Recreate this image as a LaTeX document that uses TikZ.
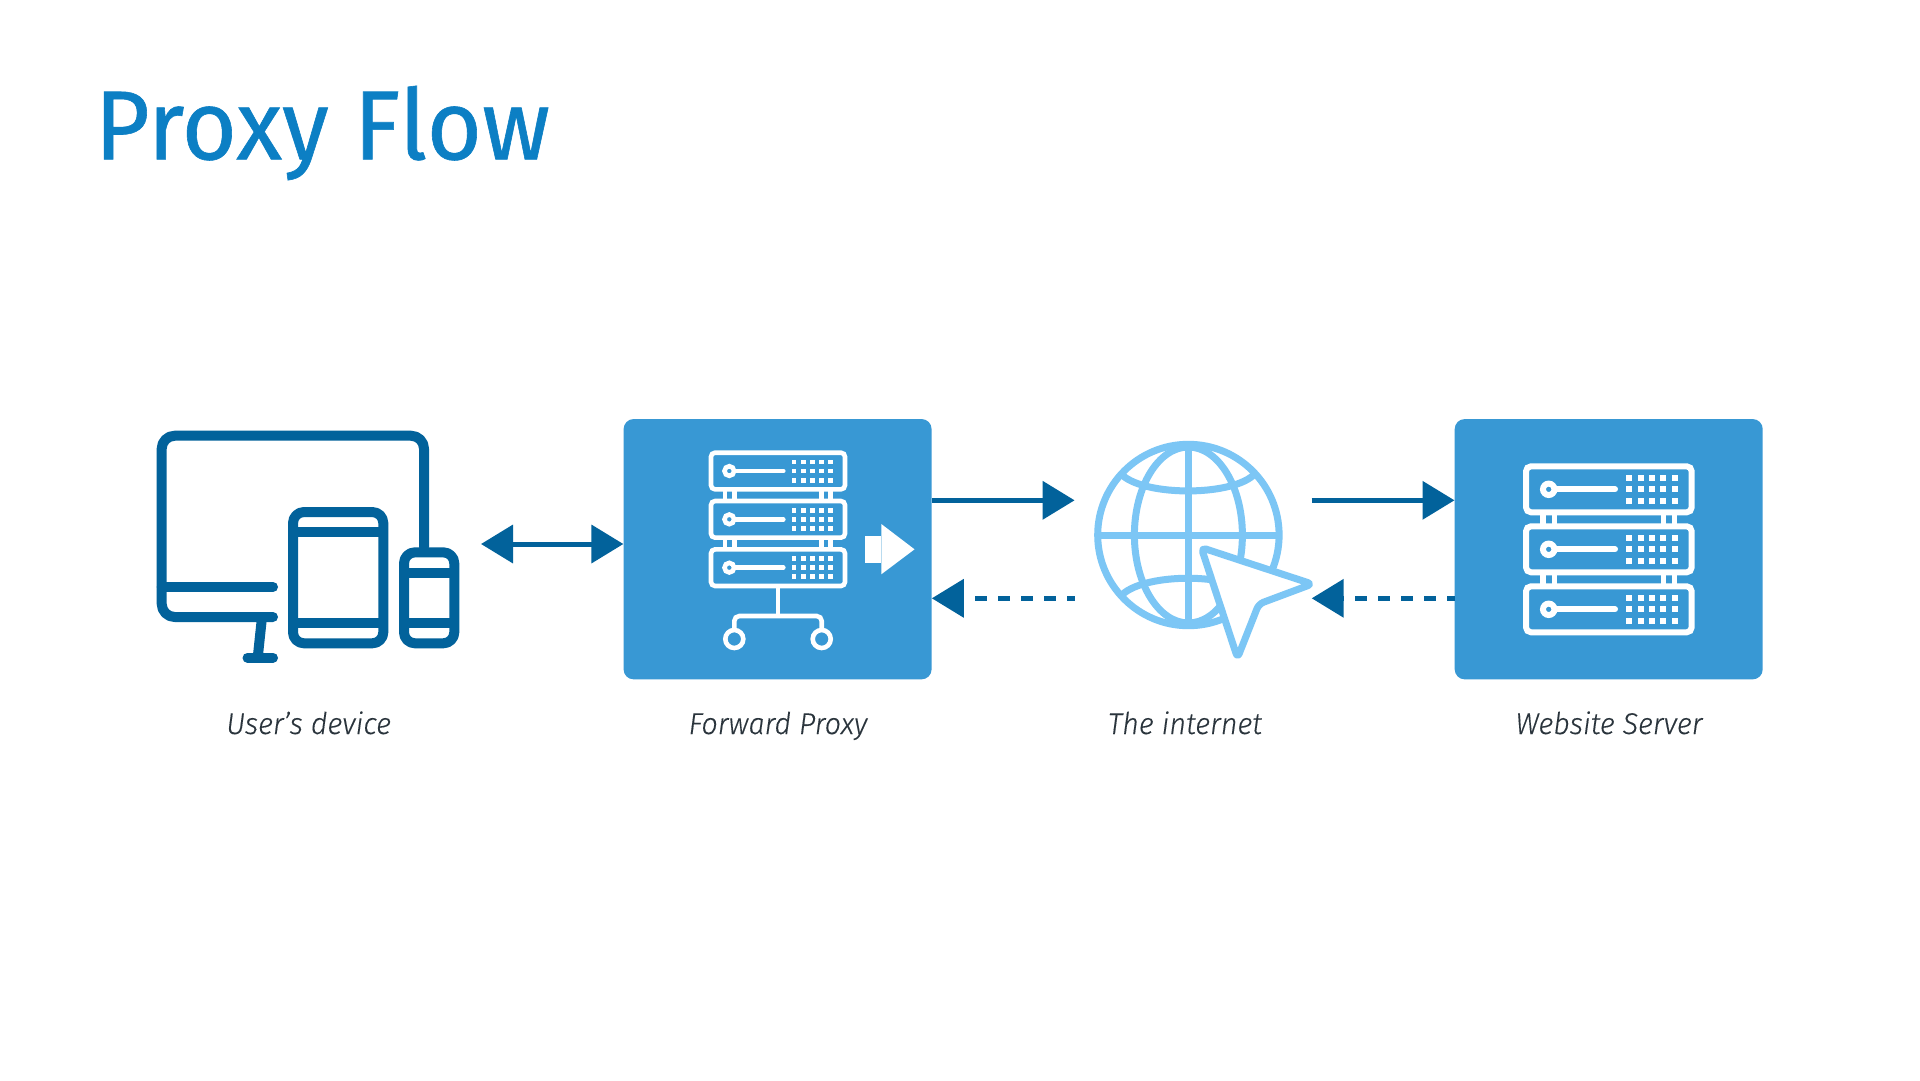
\documentclass[tikz,border=0pt]{standalone}
\usepackage{fontspec}
\usetikzlibrary{arrows.meta}
\setmainfont{Fira Sans}
\newfontfamily\titlefont[FakeStretch=0.967,FakeBold=0.6]{Fira Sans}
\newfontfamily\labelfont[FakeStretch=0.96,FakeBold=0.2]{Fira Sans Light Italic}
\definecolor{darkblue}{HTML}{02629B}
\definecolor{boxblue}{HTML}{3898D4}
\definecolor{lightblue}{HTML}{7CC6F5}
\definecolor{titleblue}{HTML}{0C7FC4}
\definecolor{labelgrey}{HTML}{2A343C}
\tikzset{
  panel/.style={fill=boxblue,rounded corners=10pt,minimum width=308pt,minimum height=260.3pt,inner sep=0pt,draw=none},
  caption/.style={anchor=base,font=\labelfont\fontsize{30}{36}\selectfont,text=labelgrey,inner sep=0pt},
  dev/.style={draw=darkblue,line width=10pt,line cap=round,line join=round},
  web/.style={draw=lightblue,line width=7pt},
  rackA/.style={draw=white,line width=4.6pt,rounded corners=4pt},
  rackB/.style={draw=white,line width=6pt,rounded corners=5pt},
  flow/.style={draw=darkblue,line width=5pt,-{Triangle[length=32pt,width=37.6pt]}},
  dualflow/.style={draw=darkblue,line width=5pt,{Triangle[length=32pt,width=37.6pt]}-{Triangle[length=32pt,width=37.6pt]}},
  backflow/.style={flow,dash pattern=on 11.4pt off 11.6pt,dash phase=4pt}
}
\begin{document}
\begin{tikzpicture}[x=1pt,y=-1pt]
\useasboundingbox (0,0) rectangle (1920,1080);
\fill[white] (0,0) rectangle (1920,1080);

\node[anchor=base west,inner sep=0pt,text=titleblue,font=\titlefont\fontsize{98}{110}\selectfont] (title) at (94.5,159.3) {Proxy Flow};

% boxes
\node[panel] (fwd) at (777.6,549.2) {};
\node[panel] (srv) at (1608.7,549.2) {};

% device icon
\draw[dev,rounded corners=13pt] (424,547) -- (424,435.7) -- (161.7,435.7) -- (161.7,617) -- (273,617);
\draw[dev] (161.7,587) -- (273,587);
\draw[dev,line cap=butt] (261.7,620) -- (258,655);
\draw[dev] (247.5,657.7) -- (273,657.7);
\draw[dev,rounded corners=11pt] (293,512) rectangle (383.3,643.3);
\draw[dev,line cap=butt] (293,532.3) -- (383.3,532.3) (293,623) -- (383.3,623);
\draw[dev,rounded corners=11pt,fill=white] (404,552.3) rectangle (454.3,643.3);
\draw[dev,line cap=butt] (404,572.7) -- (454.3,572.7) (404,623) -- (454.3,623);

% forward proxy server icon
\foreach \t in {0,48.33,96.67}{
  \draw[rackA] (711,452.7+\t) rectangle (845,489.3+\t);
  \draw[white,line width=4.6pt] (729.3,471+\t) circle[radius=4.8pt];
  \draw[white,line width=4.6pt,line cap=round] (735,471+\t) -- (783.3,471+\t);
  \foreach \gx in {794,803.2,812.3,821.6,830.7}
    \foreach \gy in {-9,0,9.2}
      \fill[white] (\gx-2.4,471+\t+\gy-2.4) rectangle (\gx+2.4,471+\t+\gy+2.4);
}
\foreach \t in {0,48.33}
  \foreach \sx in {725,734.6,821.7,830.7}
    \draw[white,line width=4.6pt] (\sx,491+\t) -- (\sx,499+\t);
\draw[white,line width=4.6pt] (778,588) -- (778,616);
\draw[white,line width=4.6pt,rounded corners=5pt] (734.3,630) -- (734.3,616) -- (821.7,616) -- (821.7,630);
\draw[white,line width=4.6pt] (734.3,639) circle[radius=9pt] (821.7,639) circle[radius=9pt];
\fill[white] (865.3,535.7) rectangle (881.3,562.7);
\fill[white] (881.3,524) -- (914.5,549.3) -- (881.3,574.3) -- cycle;

% website server icon
\foreach \t in {0,60,120}{
  \draw[rackB] (1526,466.3+\t) rectangle (1691.7,512.3+\t);
  \draw[white,line width=6pt] (1548.7,489.3+\t) circle[radius=5.7pt];
  \draw[white,line width=6pt,line cap=round] (1556,489.3+\t) -- (1615,489.3+\t);
  \foreach \gx in {1629,1640.5,1652,1663.3,1674.7}
    \foreach \gy in {-11.5,0,11.5}
      \fill[white] (\gx-3,489.3+\t+\gy-3) rectangle (\gx+3,489.3+\t+\gy+3);
}
\foreach \t in {0,60}
  \foreach \sx in {1543,1554.5,1663.3,1674.3}
    \draw[white,line width=5.4pt] (\sx,514+\t) -- (\sx,525+\t);

% globe icon
\draw[web] (1188.4,535) circle[radius=90.7pt];
\draw[web] (1188.4,535) ellipse[x radius=54pt,y radius=88pt];
\draw[web] (1188.4,444) -- (1188.4,626);
\draw[web] (1097.7,535) -- (1279,535);
\draw[web] (1122.9,475.7) .. controls (1147,496) and (1229,496) .. (1252.9,475.7);
\draw[web] (1122.9,594) .. controls (1147,573) and (1229,573) .. (1252.9,594);
\draw[web,fill=white,rounded corners=5pt,line join=round] (1201.2,547.5) -- (1312.2,584) -- (1258.8,604) -- (1237.5,658) -- cycle;

% connector ends
\coordinate (devEnd) at (481,544);
\coordinate (netOutA) at (1074.6,500.3);
\coordinate (netBackA) at (1074.6,598.3);
\coordinate (netOutB) at (1311.7,500.3);
\coordinate (netBackB) at (1311.7,598.3);

\draw[dualflow] (devEnd) -- (fwd.west |- devEnd);
\draw[flow] (fwd.east |- netOutA) -- (netOutA);
\draw[backflow] (netBackA) -- (fwd.east |- netBackA);
\draw[flow] (netOutB) -- (srv.west |- netOutB);
\draw[backflow] (srv.west |- netBackB) -- (netBackB);

% captions
\node[caption] (capA) at (308.7,734) {User’s device};
\node[caption] (capB) at (778,734) {Forward Proxy};
\node[caption] (capC) at (1185,734) {The internet};
\node[caption] (capD) at (1609,734) {Website Server};
\end{tikzpicture}
\end{document}
